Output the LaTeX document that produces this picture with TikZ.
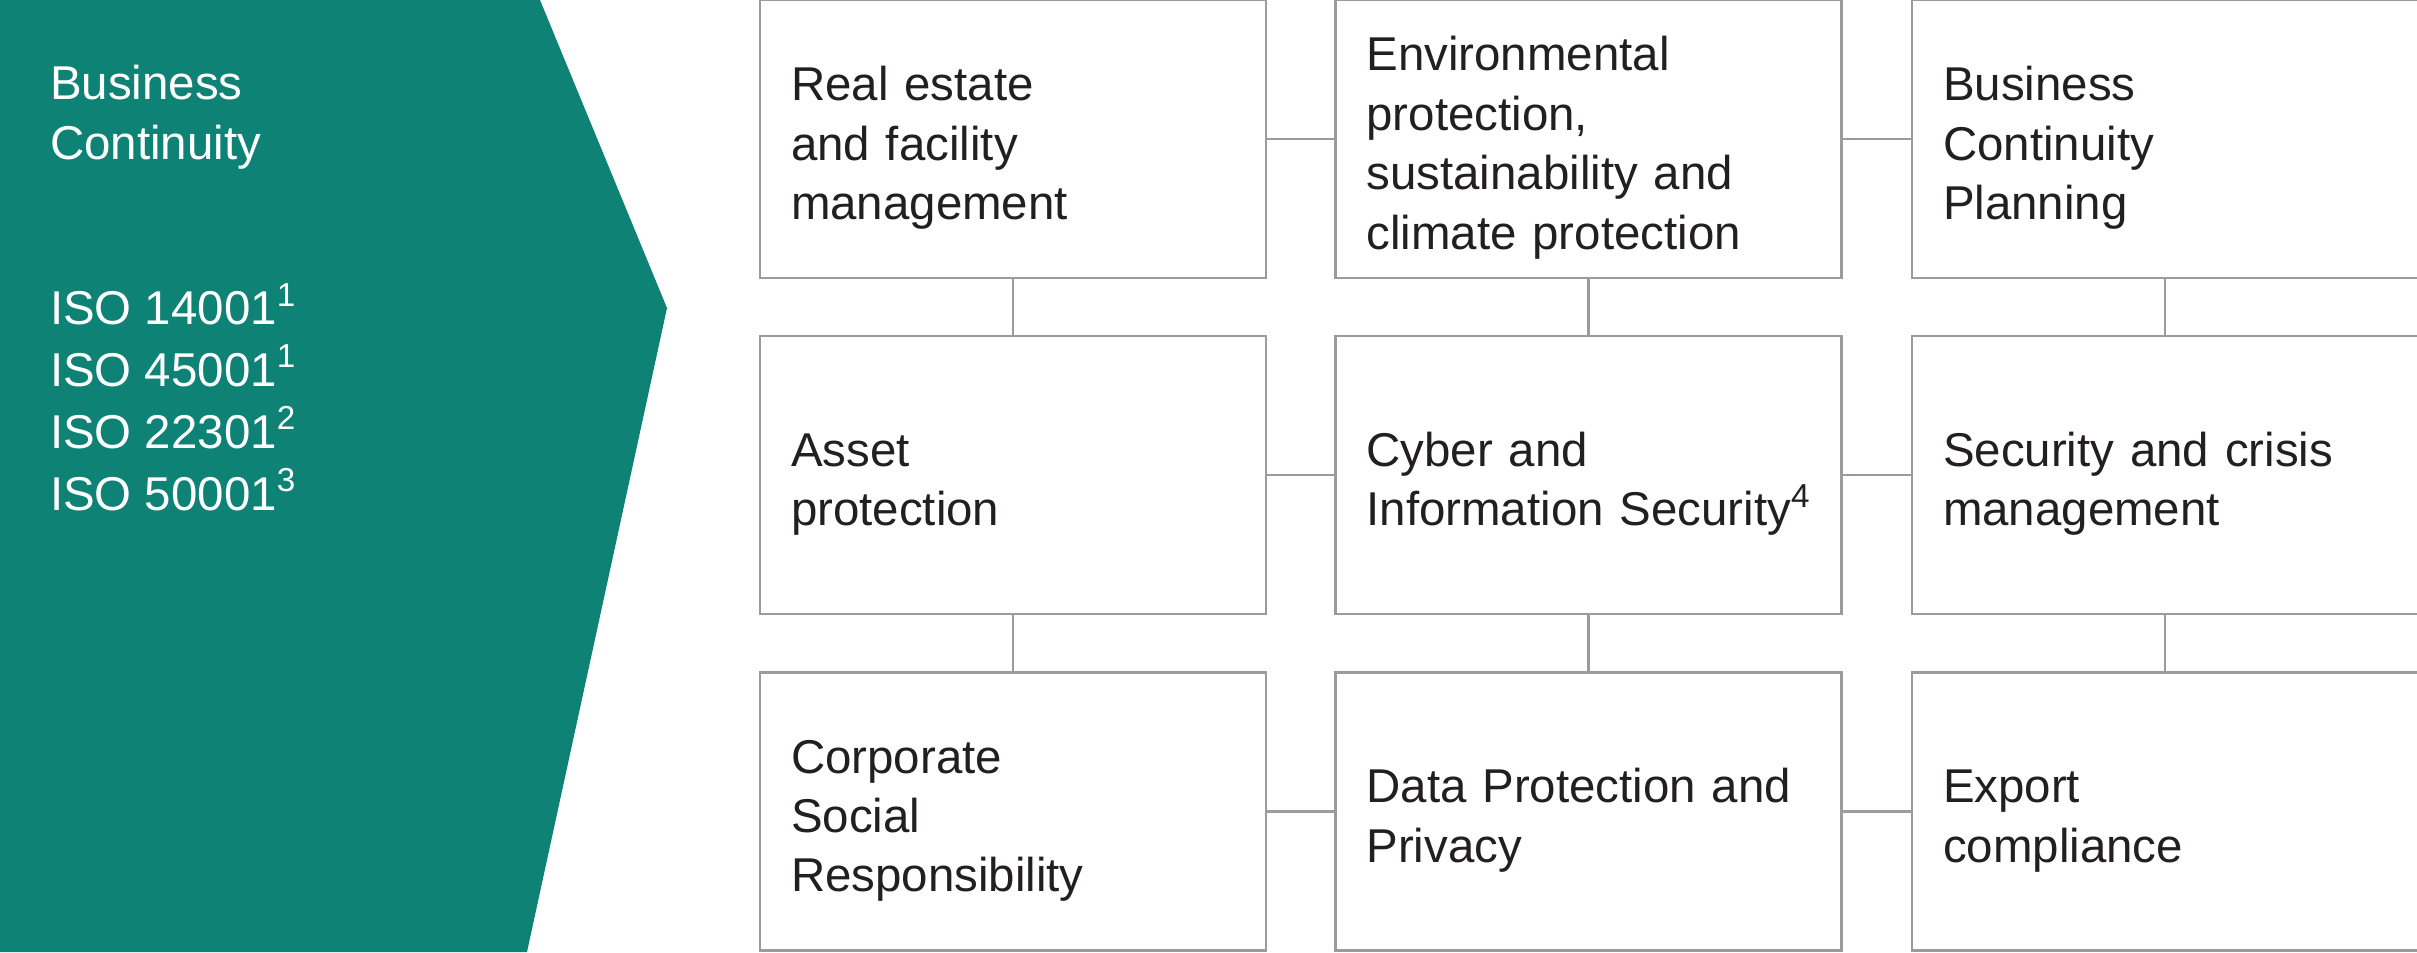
\documentclass[tikz,border=0pt]{standalone}
\usepackage{fontspec}
\setmainfont{Liberation Sans}
\usepackage{xcolor}
\definecolor{bcgreen}{HTML}{0D8275}
\definecolor{framegray}{HTML}{9C9A9A}
\definecolor{textdark}{HTML}{231F20}

\begin{document}
\begin{tikzpicture}[draw=framegray, line width=0.6pt]
    \tikzstyle{area}=[rectangle, draw=framegray, fill=white, text=textdark, minimum height=2.78cm, text width=4.44cm, text height=0.52cm, inner xsep=0.31cm, inner ysep=0pt, align=left, font=\fontsize{13.5pt}{16.9pt}\selectfont]
    \tikzstyle{sidetext}=[text=white, anchor=base west, align=left, inner sep=0pt]

    \useasboundingbox (0,0) rectangle (24.17,-9.52);

    % green arrow panel
    \fill[bcgreen] (0,0) -- (5.40,0) -- (6.67,-3.08) -- (5.27,-9.52) -- (0,-9.52) -- cycle;
    \node[sidetext, font=\fontsize{13.5pt}{16.9pt}\selectfont] (title) at (0.49,-1.59) {Business\\Continuity};
    \node[sidetext, font=\fontsize{13.5pt}{17.6pt}\selectfont] (norms) at (0.49,-5.10) {ISO 14001\textsuperscript{1}\\ISO 45001\textsuperscript{1}\\ISO 22301\textsuperscript{2}\\ISO 50001\textsuperscript{3}};

    % first row
    \node[area] (A-1) at (10.13,-1.39) {Real estate\\and facility\\management};
    \node[area] (B-1) at (15.885,-1.39) {Environmental\\protection,\\sustainability and\\climate protection};
    \node[area] (C-1) at (21.65,-1.39) {Business\\Continuity\\Planning};

    % second row
    \node[area] (A-2) at (10.13,-4.75) {Asset\\protection};
    \node[area] (B-2) at (15.885,-4.75) {Cyber and\\\mbox{Information Security\textsuperscript{4}}};
    \node[area] (C-2) at (21.65,-4.75) {Security and crisis\\management};

    % third row
    \node[area] (A-3) at (10.13,-8.115) {Corporate\\Social\\Responsibility};
    \node[area] (B-3) at (15.885,-8.115) {Data Protection and\\Privacy};
    \node[area] (C-3) at (21.65,-8.115) {Export\\compliance};

    \draw (A-1) -- (B-1);
    \draw (B-1) -- (C-1);
    \draw (A-2) -- (B-2);
    \draw (B-2) -- (C-2);
    \draw (A-3) -- (B-3);
    \draw (B-3) -- (C-3);

    \draw (A-1) -- (A-2);
    \draw (A-2) -- (A-3);
    \draw (B-1) -- (B-2);
    \draw (B-2) -- (B-3);
    \draw (C-1) -- (C-2);
    \draw (C-2) -- (C-3);
\end{tikzpicture}
\end{document}
